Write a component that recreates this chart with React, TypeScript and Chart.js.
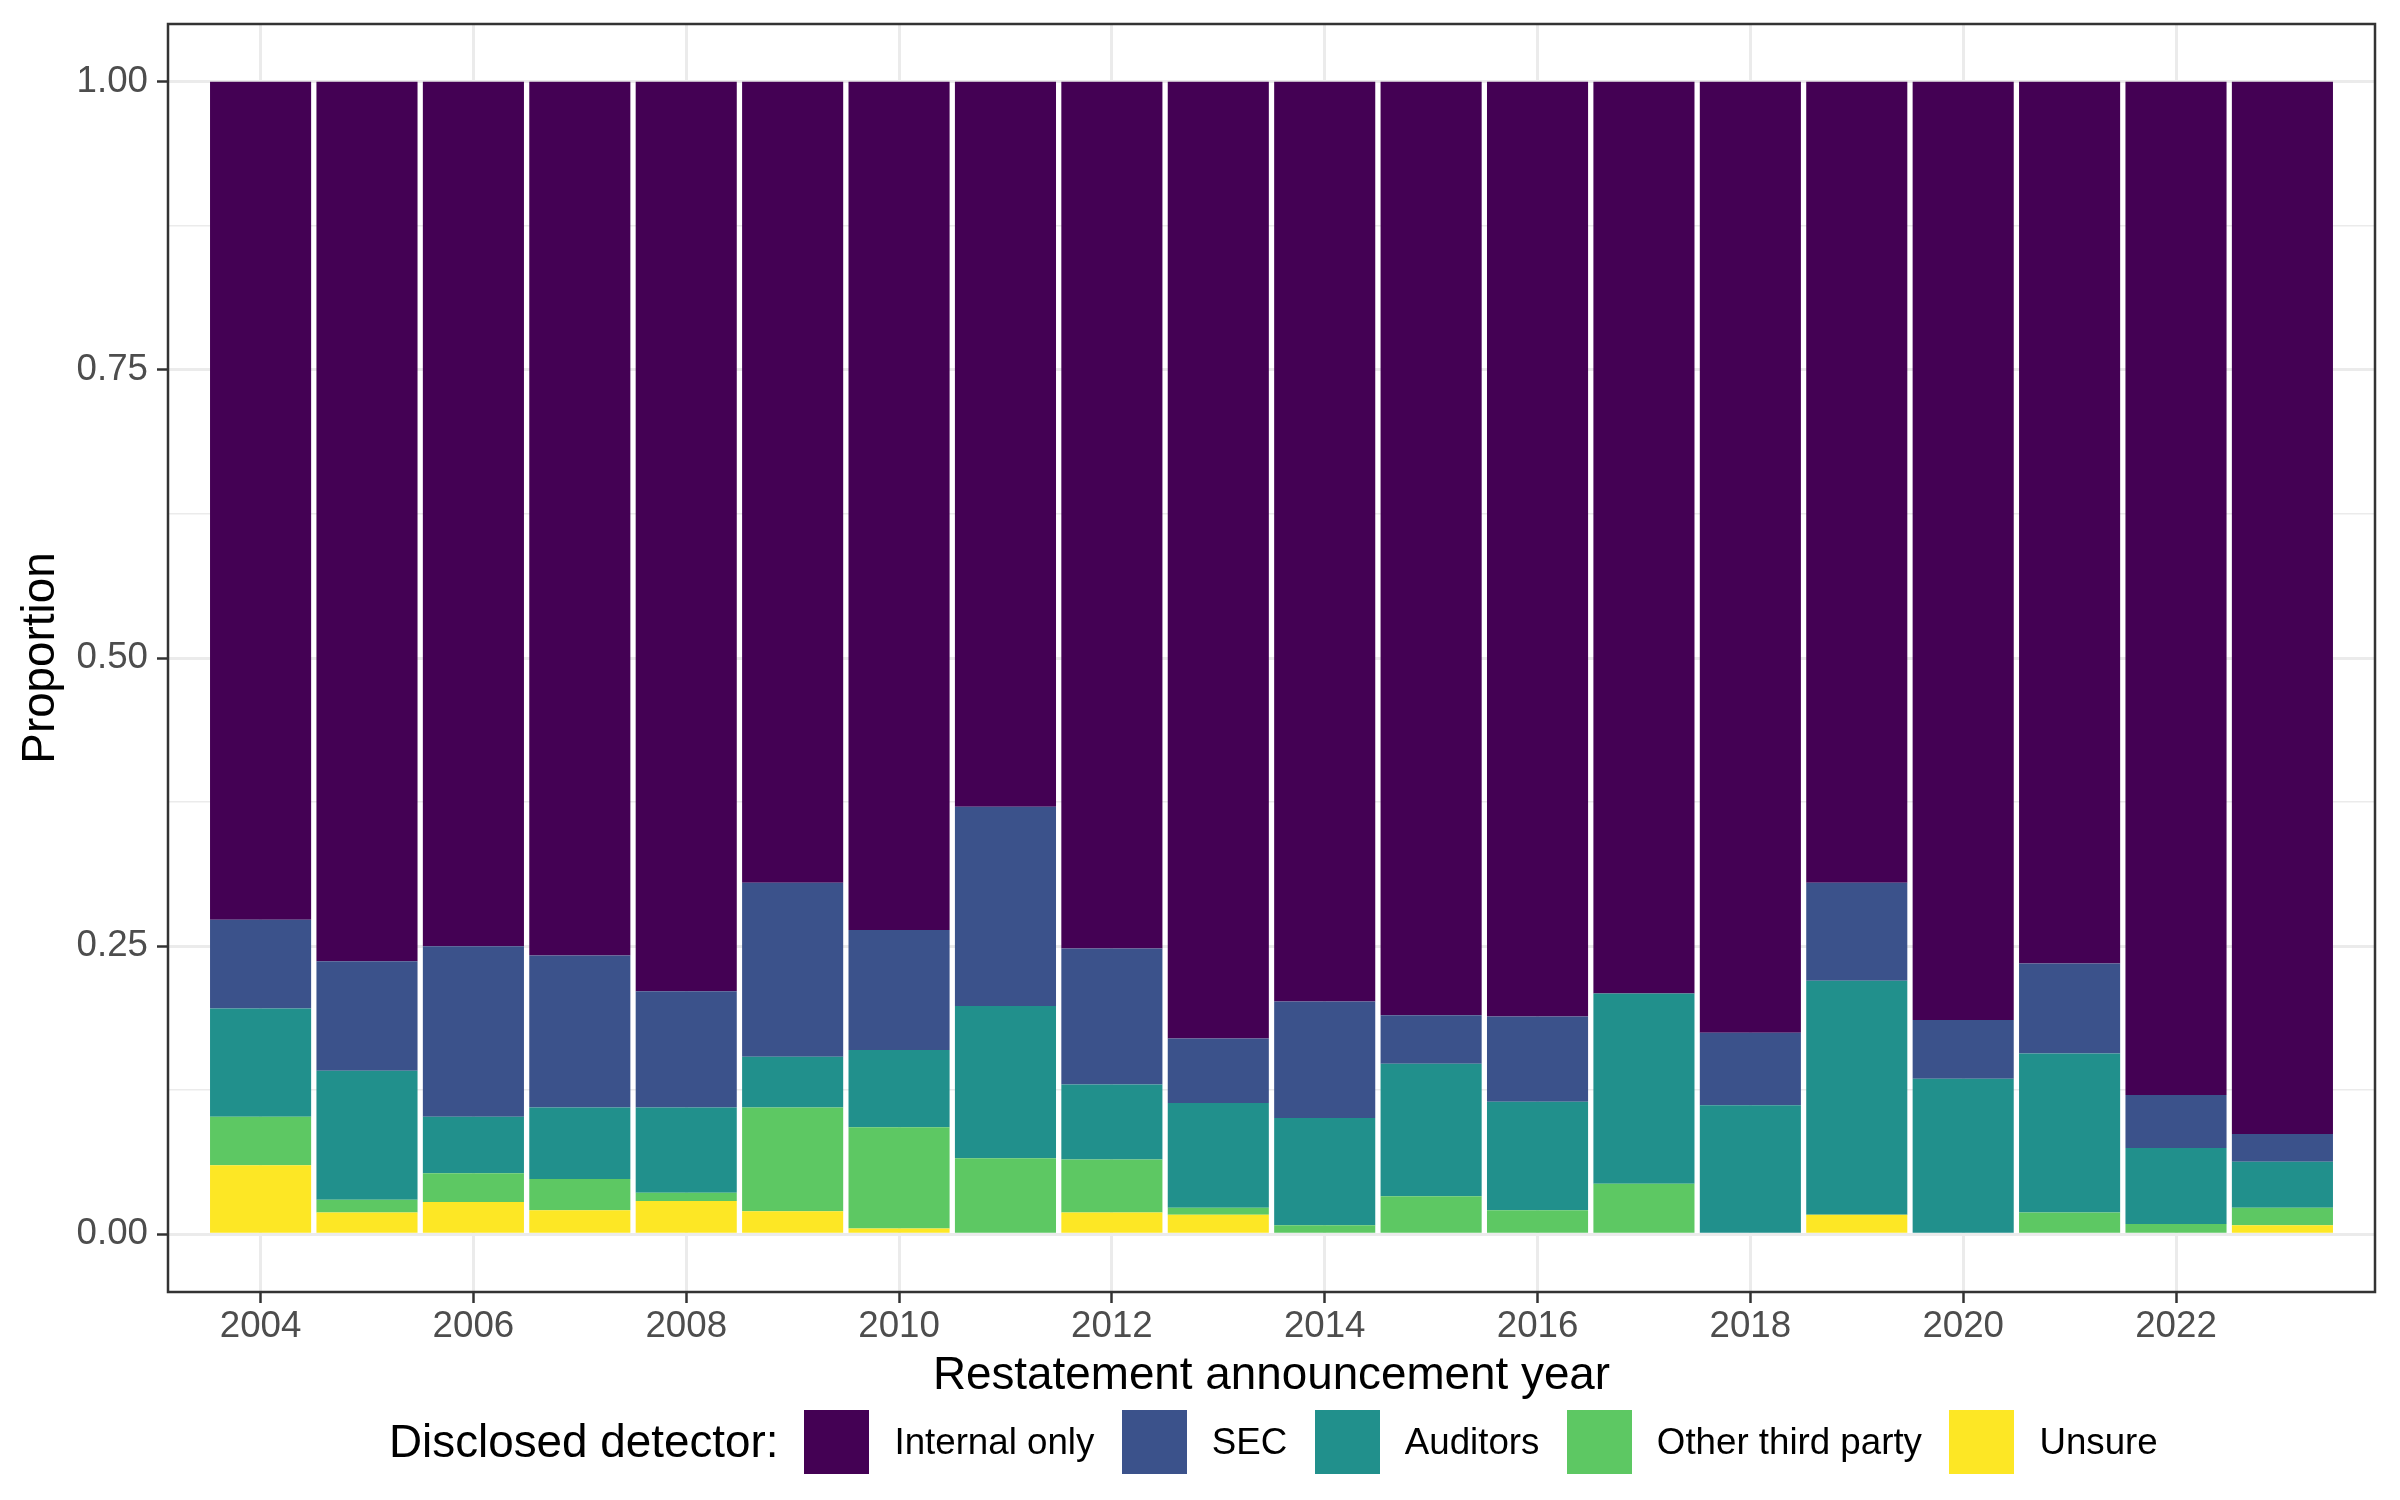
import React, { useEffect, useRef } from "react";
import { Chart, registerables } from "chart.js";

Chart.register(...registerables);

// ---------------- data ----------------
const years = [2004, 2005, 2006, 2007, 2008, 2009, 2010, 2011, 2012, 2013, 2014, 2015, 2016, 2017, 2018, 2019, 2020, 2021, 2022, 2023];

const unsure = [0.060, 0.019, 0.028, 0.021, 0.029, 0.020, 0.005, 0.000, 0.019, 0.017, 0.000, 0.000, 0.000, 0.000, 0.000, 0.017, 0.000, 0.000, 0.000, 0.008];
const otherThirdParty = [0.042, 0.011, 0.025, 0.027, 0.007, 0.090, 0.088, 0.066, 0.046, 0.006, 0.008, 0.033, 0.021, 0.044, 0.000, 0.000, 0.000, 0.019, 0.009, 0.015];
const auditors = [0.094, 0.112, 0.049, 0.062, 0.074, 0.044, 0.067, 0.132, 0.065, 0.091, 0.093, 0.115, 0.094, 0.165, 0.112, 0.203, 0.135, 0.138, 0.066, 0.040];
const sec = [0.077, 0.095, 0.148, 0.132, 0.101, 0.151, 0.104, 0.173, 0.118, 0.056, 0.101, 0.042, 0.074, 0.000, 0.063, 0.085, 0.051, 0.078, 0.046, 0.024];
const internalOnly = [0.727, 0.763, 0.750, 0.758, 0.789, 0.695, 0.736, 0.629, 0.752, 0.830, 0.798, 0.810, 0.811, 0.791, 0.825, 0.695, 0.814, 0.765, 0.879, 0.913];

const seriesLabels = ["Internal only", "SEC", "Auditors", "Other third party", "Unsure"];
const seriesColors = ["#440154", "#3B528B", "#21908C", "#5DC863", "#FDE725"];

const xTickYears = [2004, 2006, 2008, 2010, 2012, 2014, 2016, 2018, 2020, 2022];
const yMajorTicks = [0, 0.25, 0.5, 0.75, 1];
const yMinorTicks = [0.125, 0.375, 0.625, 0.875];

const xTitle = "Restatement announcement year";
const yTitle = "Proportion";
const legendTitle = "Disclosed detector:";

// ---------------- styling ----------------
const FONT = "'Liberation Sans', Arial, Helvetica, sans-serif";
const GRID = "#EBEBEB";
const INK = "#333333";

const panelBorder = {
  id: "panelBorder",
  afterDatasetsDraw(chart: any) {
    const { ctx, chartArea } = chart;
    ctx.save();
    ctx.strokeStyle = INK;
    ctx.lineWidth = 2.5;
    ctx.strokeRect(chartArea.left, chartArea.top, chartArea.right - chartArea.left, chartArea.bottom - chartArea.top);
    ctx.restore();
  },
};

const isMajorY = (v: number) => yMajorTicks.some((m) => Math.abs(m - v) < 1e-9);

export default function App() {
  const canvasRef = useRef<HTMLCanvasElement | null>(null);

  useEffect(() => {
    if (!canvasRef.current) return;
    const toPoints = (arr: number[]) => arr.map((v, i) => ({ x: years[i], y: v }));
    // stacked bottom-up: Unsure at bottom, Internal only on top
    const stackOrder: [string, number[], string][] = [
      [seriesLabels[4], unsure, seriesColors[4]],
      [seriesLabels[3], otherThirdParty, seriesColors[3]],
      [seriesLabels[2], auditors, seriesColors[2]],
      [seriesLabels[1], sec, seriesColors[1]],
      [seriesLabels[0], internalOnly, seriesColors[0]],
    ];

    const chart = new Chart(canvasRef.current, {
      type: "bar",
      data: {
        datasets: stackOrder.map(([label, arr, color]) => ({
          label,
          data: toPoints(arr),
          backgroundColor: color,
          borderWidth: 0,
          categoryPercentage: 1,
          barPercentage: 0.95,
        })),
      },
      options: {
        responsive: false,
        animation: false,
        devicePixelRatio: 1,
        layout: { padding: { left: 0, top: 24, right: 25, bottom: 96 } },
        plugins: {
          legend: { display: false },
          tooltip: { enabled: false },
        },
        scales: {
          x: {
            type: "linear",
            stacked: true,
            offset: false,
            min: 2003.13,
            max: 2023.87,
            afterBuildTicks: (scale: any) => {
              scale.ticks = xTickYears.map((v) => ({ value: v }));
            },
            afterFit: (scale: any) => {
              scale.height = 112;
              scale.paddingLeft = 0;
              scale.paddingRight = 0;
            },
            grid: {
              offset: false,
              color: GRID,
              lineWidth: 3,
              drawTicks: true,
              tickLength: 11,
              tickColor: INK,
              tickWidth: 2.5,
            },
            border: { display: false },
            ticks: {
              autoSkip: false,
              maxRotation: 0,
              padding: 2,
              color: "#4D4D4D",
              font: { family: FONT, size: 36.7 },
              callback: (v: any) => String(v),
            },
            title: {
              display: true,
              text: xTitle,
              color: "#000000",
              font: { family: FONT, size: 45.8 },
              padding: { top: 0, bottom: 0 },
            },
          },
          y: {
            type: "linear",
            stacked: true,
            min: -0.05,
            max: 1.05,
            afterBuildTicks: (scale: any) => {
              scale.ticks = [...yMajorTicks, ...yMinorTicks].sort((a, b) => a - b).map((v) => ({ value: v }));
            },
            afterFit: (scale: any) => {
              scale.width = 168;
              scale.paddingTop = 0;
              scale.paddingBottom = 0;
            },
            grid: {
              color: GRID,
              lineWidth: (c: any) => (isMajorY(c.tick?.value) ? 3 : 1.6),
              drawTicks: true,
              tickLength: 11,
              tickColor: (c: any) => (isMajorY(c.tick?.value) ? INK : "rgba(0,0,0,0)"),
              tickWidth: 2.5,
            },
            border: { display: false },
            ticks: {
              autoSkip: false,
              padding: 9,
              color: "#4D4D4D",
              font: { family: FONT, size: 36.7 },
              callback: (v: any) => (isMajorY(Number(v)) ? Number(v).toFixed(2) : ""),
            },
            title: {
              display: true,
              text: yTitle,
              color: "#000000",
              font: { family: FONT, size: 45.8 },
              padding: { top: 14, bottom: 0 },
            },
          },
        },
      } as any,
      plugins: [panelBorder],
    });
    return () => chart.destroy();
  }, []);

  return (
    <div style={{ position: "fixed", left: 0, top: 0, width: 2400, height: 1500, background: "#FFFFFF" }}>
      <canvas ref={canvasRef} width={2400} height={1500} style={{ position: "absolute", left: 0, top: 0, width: 2400, height: 1500 }} />
      <div
        style={{
          position: "absolute",
          left: 389,
          top: 1410,
          height: 64,
          display: "flex",
          alignItems: "center",
          fontFamily: FONT,
          color: "#000000",
          whiteSpace: "nowrap",
        }}
      >
        <span style={{ fontSize: 45.8, marginRight: 26 }}>{legendTitle}</span>
        {seriesLabels.map((label, i) => (
          <span key={label} style={{ display: "flex", alignItems: "center" }}>
            <span style={{ display: "inline-block", width: 65, height: 64, background: seriesColors[i] }} />
            <span style={{ fontSize: 36.7, marginLeft: 25, marginRight: i < seriesLabels.length - 1 ? 27.5 : 0 }}>{label}</span>
          </span>
        ))}
      </div>
    </div>
  );
}
